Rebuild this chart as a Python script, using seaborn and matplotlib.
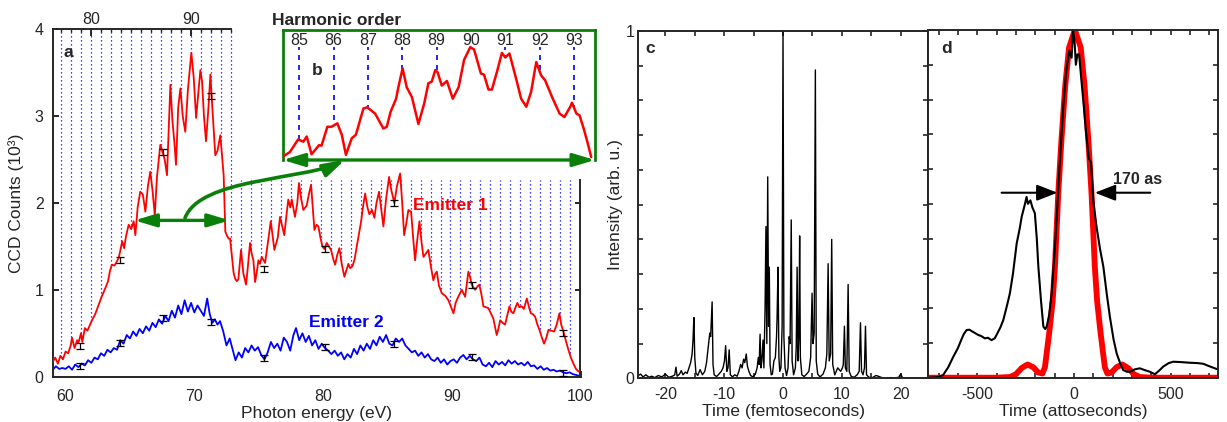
import numpy as np
import matplotlib
matplotlib.use("Agg")
import matplotlib.pyplot as plt
import seaborn as sns
from matplotlib.path import Path
from matplotlib.patches import FancyArrowPatch

# ---------------- data: panel a (photon energy in eV, counts in 10^3) ----------------
red_E = [
    59.0, 59.2, 59.4, 59.6, 59.8, 60.0, 60.2, 60.4, 60.5, 60.7,
    60.9, 61.0, 61.2, 61.3, 61.5, 61.7, 61.9, 62.05, 62.3, 62.57,
    62.8, 63.09, 63.3, 63.45, 63.6, 63.8, 64.0, 64.13, 64.25, 64.4,
    64.55, 64.7, 64.9, 65.1, 65.29, 65.42, 65.6, 65.8, 66.0, 66.2,
    66.4, 66.58, 66.75, 66.93, 67.1, 67.36, 67.55, 67.7, 67.88, 68.0,
    68.14, 68.3, 68.45, 68.58, 68.75, 68.92, 69.1, 69.3, 69.5, 69.77,
    69.95, 70.14, 70.3, 70.47, 70.6, 70.75, 70.91, 71.1, 71.25, 71.4,
    71.63, 71.8, 72.02, 72.15, 72.28, 72.41, 72.55, 72.67, 72.78, 72.93,
    73.05, 73.17, 73.3, 73.42, 73.63, 73.81, 74.02, 74.15, 74.33, 74.45,
    74.59, 74.72, 74.85, 74.98, 75.1, 75.24, 75.5, 75.71, 75.94, 76.1,
    76.22, 76.48, 76.66, 76.8, 76.99, 77.15, 77.3, 77.45, 77.57, 77.82,
    78.0, 78.13, 78.3, 78.47, 78.73, 78.9, 79.07, 79.2, 79.33, 79.5,
    79.64, 79.8, 79.95, 80.1, 80.29, 80.45, 80.62, 80.8, 80.94, 81.1,
    81.27, 81.45, 81.66, 81.8, 81.97, 82.1, 82.28, 82.45, 82.62, 82.8,
    82.96, 83.1, 83.27, 83.45, 83.6, 83.8, 83.99, 84.15, 84.35, 84.5,
    84.69, 84.9, 85.13, 85.3, 85.54, 85.75, 85.99, 86.15, 86.3, 86.45,
    86.63, 86.84, 87.0, 87.15, 87.3, 87.49, 87.65, 87.8, 88.0, 88.18,
    88.4, 88.57, 88.7, 88.84, 89.0, 89.23, 89.5, 89.74, 89.9, 90.13,
    90.3, 90.44, 90.6, 90.78, 91.04, 91.15, 91.29, 91.42, 91.55, 91.81,
    92.0, 92.14, 92.3, 92.46, 92.65, 92.84, 93.0, 93.23, 93.35, 93.49,
    93.62, 93.76, 93.95, 94.14, 94.3, 94.48, 94.62, 94.79, 94.95, 95.1,
    95.25, 95.44, 95.6, 95.83, 96.0, 96.14, 96.3, 96.48, 96.65, 96.81,
    97.0, 97.17, 97.35, 97.51, 97.7, 97.95, 98.15, 98.36, 98.5, 98.67,
    98.85, 99.06, 99.25, 99.45, 99.65, 99.84, 100.0]
red_counts = [
    0.17, 0.22, 0.15, 0.24, 0.20, 0.29, 0.27, 0.36, 0.45, 0.33,
    0.42, 0.39, 0.50, 0.40, 0.56, 0.53, 0.60, 0.65, 0.72, 0.83,
    0.92, 1.02, 1.10, 1.22, 1.29, 1.28, 1.33, 1.37, 1.45, 1.56,
    1.48, 1.62, 1.75, 1.70, 1.79, 1.63, 1.95, 2.13, 2.10, 1.90,
    2.20, 2.36, 2.15, 1.86, 2.30, 2.67, 2.58, 2.50, 2.32, 2.80,
    3.36, 2.95, 2.70, 2.44, 3.10, 3.32, 3.00, 2.82, 3.30, 3.73,
    3.45, 2.98, 3.25, 3.53, 3.40, 3.00, 2.71, 3.10, 3.48, 3.10,
    2.55, 2.60, 2.78, 2.55, 2.32, 1.67, 1.62, 1.59, 1.59, 1.37,
    1.20, 1.13, 1.10, 1.12, 1.46, 1.19, 1.06, 1.25, 1.54, 1.42,
    1.34, 1.09, 1.20, 1.34, 1.30, 1.38, 1.31, 1.54, 1.79, 1.60,
    1.46, 1.60, 1.84, 1.75, 1.63, 1.85, 2.04, 1.95, 2.04, 1.84,
    2.00, 2.23, 2.05, 1.92, 1.97, 2.10, 2.21, 1.95, 1.69, 1.75,
    1.73, 1.60, 1.50, 1.47, 1.54, 1.50, 1.46, 1.35, 1.29, 1.40,
    1.48, 1.30, 1.15, 1.22, 1.30, 1.25, 1.27, 1.35, 1.50, 1.65,
    1.79, 1.95, 2.11, 1.95, 1.87, 1.92, 1.83, 2.00, 2.13, 1.95,
    1.73, 2.05, 2.30, 2.15, 2.00, 2.20, 2.34, 2.00, 1.63, 1.75,
    1.92, 1.90, 1.60, 1.34, 1.55, 1.79, 1.55, 1.38, 1.42, 1.46,
    1.25, 1.11, 1.18, 1.21, 1.05, 0.96, 0.93, 0.88, 0.82, 0.73,
    0.85, 0.90, 0.95, 1.00, 0.92, 1.05, 1.21, 1.15, 1.06, 1.00,
    1.04, 1.06, 0.95, 0.81, 0.80, 0.79, 0.74, 0.67, 0.58, 0.48,
    0.55, 0.65, 0.62, 0.60, 0.70, 0.81, 0.75, 0.73, 0.80, 0.85,
    0.80, 0.81, 0.78, 0.90, 0.80, 0.73, 0.72, 0.69, 0.60, 0.54,
    0.45, 0.38, 0.45, 0.54, 0.53, 0.52, 0.60, 0.73, 0.60, 0.52,
    0.42, 0.31, 0.22, 0.15, 0.09, 0.06, 0.07]

blue_E = [
    59.0, 59.25, 59.5, 59.75, 60.0, 60.25, 60.5, 60.75, 61.0, 61.25,
    61.5, 61.75, 62.0, 62.25, 62.5, 62.75, 63.0, 63.25, 63.5, 63.75,
    64.0, 64.25, 64.5, 64.75, 65.0, 65.25, 65.5, 65.75, 66.0, 66.25,
    66.5, 66.75, 67.0, 67.25, 67.5, 67.75, 68.0, 68.25, 68.5, 68.75,
    69.0, 69.25, 69.5, 69.75, 70.0, 70.25, 70.5, 70.75, 71.0, 71.2,
    71.4, 71.6, 71.8, 72.0, 72.25, 72.5, 72.75, 73.0, 73.2, 73.45,
    73.7, 73.95, 74.2, 74.45, 74.7, 74.95, 75.2, 75.45, 75.7, 75.95,
    76.2, 76.45, 76.7, 76.95, 77.2, 77.45, 77.7, 77.9, 78.15, 78.4,
    78.65, 78.9, 79.15, 79.4, 79.65, 79.9, 80.15, 80.4, 80.65, 80.9,
    81.15, 81.4, 81.65, 81.9, 82.15, 82.4, 82.65, 82.9, 83.15, 83.4,
    83.65, 83.9, 84.15, 84.4, 84.65, 84.9, 85.15, 85.4, 85.65, 85.9,
    86.15, 86.4, 86.65, 86.9, 87.15, 87.4, 87.65, 87.9, 88.15, 88.4,
    88.65, 88.9, 89.15, 89.4, 89.65, 89.9, 90.15, 90.4, 90.65, 90.9,
    91.15, 91.4, 91.65, 91.9, 92.15, 92.4, 92.65, 92.9, 93.15, 93.4,
    93.65, 93.9, 94.15, 94.4, 94.65, 94.9, 95.15, 95.4, 95.65, 95.9,
    96.15, 96.4, 96.65, 96.9, 97.15, 97.4, 97.65, 97.9, 98.15, 98.4,
    98.65, 98.9, 99.15, 99.4, 99.65, 99.9, 100.0]
blue_counts = [
    0.08, 0.12, 0.09, 0.10, 0.09, 0.12, 0.08, 0.14, 0.11, 0.15,
    0.13, 0.19, 0.16, 0.22, 0.20, 0.27, 0.24, 0.31, 0.28, 0.33,
    0.31, 0.42, 0.38, 0.48, 0.44, 0.52, 0.47, 0.55, 0.50, 0.58,
    0.53, 0.62, 0.57, 0.66, 0.61, 0.70, 0.64, 0.76, 0.68, 0.82,
    0.72, 0.88, 0.75, 0.85, 0.74, 0.82, 0.76, 0.70, 0.90, 0.72,
    0.62, 0.66, 0.60, 0.64, 0.52, 0.36, 0.44, 0.30, 0.19, 0.28,
    0.22, 0.33, 0.28, 0.36, 0.30, 0.34, 0.25, 0.20, 0.28, 0.40,
    0.33, 0.38, 0.30, 0.45, 0.40, 0.30, 0.48, 0.56, 0.42, 0.50,
    0.40, 0.47, 0.36, 0.42, 0.32, 0.38, 0.33, 0.30, 0.26, 0.30,
    0.24, 0.28, 0.20, 0.26, 0.22, 0.32, 0.26, 0.36, 0.30, 0.38,
    0.32, 0.42, 0.36, 0.46, 0.40, 0.48, 0.38, 0.36, 0.44, 0.40,
    0.44, 0.36, 0.32, 0.28, 0.30, 0.24, 0.28, 0.22, 0.26, 0.20,
    0.18, 0.22, 0.16, 0.20, 0.14, 0.18, 0.20, 0.16, 0.22, 0.25,
    0.20, 0.24, 0.20, 0.18, 0.22, 0.14, 0.12, 0.16, 0.11, 0.18,
    0.14, 0.17, 0.13, 0.19, 0.15, 0.18, 0.14, 0.16, 0.13, 0.17,
    0.12, 0.13, 0.09, 0.12, 0.08, 0.10, 0.07, 0.08, 0.06, 0.07,
    0.05, 0.04, 0.05, 0.03, 0.02, 0.01, 0.00]

err_E = [61.13, 64.24, 67.53, 71.28, 75.44, 80.16, 85.54, 91.6, 98.67]
err_red = [0.357, 1.344, 2.59, 3.23, 1.24, 1.468, 2.005, 1.056, 0.50]
err_blue = [0.127, 0.385, 0.673, 0.627, 0.219, 0.346, 0.374, 0.223, 0.046]
err_size = 0.035

top_major_orders = [80, 90]

# ---------------- data: inset b (harmonic order, counts in 10^3) ----------------
inset_q = [
    84.53, 84.73, 84.97, 85.12, 85.22, 85.36, 85.58, 85.65, 85.82, 85.94,
    86.11, 86.24, 86.36, 86.53, 86.65, 86.87, 86.98, 87.21, 87.45, 87.55,
    87.66, 87.82, 87.89, 88.01, 88.13, 88.28, 88.47, 88.64, 88.76, 88.86,
    88.96, 89.03, 89.15, 89.30, 89.47, 89.64, 89.80, 89.98, 90.09, 90.29,
    90.38, 90.51, 90.61, 90.77, 90.90, 91.00, 91.12, 91.34, 91.46, 91.61,
    91.75, 91.90, 92.04, 92.16, 92.36, 92.58, 92.72, 92.89, 92.94, 93.07,
    93.16, 93.28, 93.40, 93.50]
inset_counts = [
    1.81, 1.89, 2.11, 2.07, 2.16, 1.85, 2.01, 2.00, 2.33, 2.33,
    2.39, 2.19, 1.84, 2.13, 2.19, 2.65, 2.67, 2.56, 2.30, 2.33,
    2.59, 2.82, 3.03, 3.35, 3.02, 2.85, 2.38, 2.74, 3.09, 3.12,
    3.32, 3.28, 3.05, 3.13, 2.82, 3.02, 3.50, 3.72, 3.68, 3.26,
    3.24, 2.98, 2.98, 3.32, 3.62, 3.54, 3.61, 3.11, 2.82, 2.68,
    2.94, 3.46, 3.23, 3.14, 2.85, 2.56, 2.50, 2.68, 2.75, 2.56,
    2.53, 2.30, 2.04, 1.80]
inset_orders = [85, 86, 87, 88, 89, 90, 91, 92, 93]

# ---------------- data: panel c (time in fs, intensity) ----------------
c_time = [
    -24.6, -24.2, -23.8, -23.3, -22.8, -22.3, -21.8, -21.2, -20.6, -20.0,
    -19.4, -18.8, -18.4, -18.2, -18.0, -17.6, -17.3, -17.0, -16.6, -16.3,
    -16.0, -15.7, -15.45, -15.3, -15.15, -15.0, -14.8, -14.5, -14.1, -13.7,
    -13.3, -13.0, -12.7, -12.45, -12.3, -12.05, -11.9, -11.7, -11.3, -10.9,
    -10.5, -10.2, -9.95, -9.75, -9.55, -9.35, -9.15, -8.95, -8.6, -8.2,
    -7.8, -7.5, -7.2, -6.95, -6.7, -6.5, -6.25, -6.05, -5.8, -5.5,
    -5.1, -4.7, -4.4, -4.2, -4.05, -3.9, -3.75, -3.6, -3.4, -3.25,
    -3.05, -2.9, -2.75, -2.6, -2.45, -2.33, -2.2, -2.0, -1.8, -1.55,
    -1.3, -1.1, -1.0, -0.85, -0.7, -0.55, -0.35, -0.15, 0.0, 0.15,
    0.35, 0.6, 0.85, 1.05, 1.2, 1.4, 1.55, 1.8, 2.1, 2.25,
    2.4, 2.55, 2.7, 2.83, 2.95, 3.2, 3.6, 4.0, 4.4, 4.7,
    4.94, 5.1, 5.3, 5.5, 5.65, 5.9, 6.3, 6.8, 7.2, 7.45,
    7.67, 7.85, 8.1, 8.28, 8.45, 8.8, 9.3, 9.8, 10.1, 10.25,
    10.44, 10.6, 10.85, 11.07, 11.25, 11.6, 12.1, 12.6, 12.95, 13.17,
    13.35, 13.6, 13.85, 14.02, 14.2, 14.6, 15.2, 15.8, 16.2, 16.8,
    17.5, 18.3, 19.0, 19.7, 19.98, 20.3, 21.0, 22.0, 23.0, 24.0,
    24.7]
c_intensity = [
    0.008, 0.012, 0.004, 0.010, 0.003, 0.006, 0.002, 0.008, 0.004, 0.012,
    0.003, 0.006, 0.010, 0.032, 0.006, 0.012, 0.022, 0.010, 0.018, 0.014,
    0.030, 0.045, 0.070, 0.110, 0.175, 0.060, 0.015, 0.008, 0.025, 0.010,
    0.020, 0.045, 0.090, 0.130, 0.120, 0.220, 0.040, 0.010, 0.005, 0.012,
    0.020, 0.030, 0.050, 0.094, 0.020, 0.030, 0.082, 0.010, 0.004, 0.010,
    0.006, 0.020, 0.040, 0.030, 0.055, 0.045, 0.070, 0.035, 0.020, 0.008,
    0.004, 0.012, 0.030, 0.060, 0.040, 0.127, 0.030, 0.050, 0.110, 0.030,
    0.200, 0.437, 0.100, 0.580, 0.150, 0.320, 0.040, 0.010, 0.012, 0.050,
    0.060, 0.120, 0.180, 0.320, 0.060, 0.020, 0.030, 0.150, 1.000, 0.120,
    0.030, 0.008, 0.030, 0.120, 0.100, 0.456, 0.050, 0.010, 0.030, 0.090,
    0.320, 0.050, 0.120, 0.410, 0.060, 0.010, 0.005, 0.012, 0.020, 0.060,
    0.245, 0.100, 0.130, 0.888, 0.050, 0.012, 0.004, 0.012, 0.030, 0.070,
    0.330, 0.050, 0.070, 0.400, 0.040, 0.010, 0.030, 0.020, 0.030, 0.040,
    0.150, 0.030, 0.020, 0.270, 0.020, 0.005, 0.003, 0.010, 0.020, 0.160,
    0.020, 0.010, 0.030, 0.150, 0.010, 0.003, 0.002, 0.008, 0.006, 0.002,
    0.001, 0.002, 0.001, 0.003, 0.012, 0.002, 0.001, 0.000, 0.001, 0.000,
    0.000]

# ---------------- data: panel d (time in as, intensity) ----------------
d_time_meas = [
    -750, -700, -676, -650, -624, -600, -589, -570, -555, -540,
    -529, -510, -495, -480, -460, -445, -426, -410, -400, -380,
    -365, -345, -331, -315, -296, -280, -270, -253, -245, -238,
    -225, -215, -202, -192, -184, -170, -158, -148, -141, -128,
    -115, -100, -90, -75, -55, -40, -24, -12, -5, 3,
    10, 18, 27, 38, 48, 62, 77, 88, 100, 117,
    135, 152, 170, 186, 205, 221, 240, 255, 275, 290,
    315, 341, 365, 393, 419, 440, 462, 490, 514, 550,
    600, 640, 669, 700, 738, 750]
d_meas = [
    0.0, 0.002, 0.008, 0.03, 0.06, 0.085, 0.10, 0.125, 0.137, 0.138,
    0.134, 0.128, 0.123, 0.12, 0.113, 0.115, 0.108, 0.113, 0.123, 0.145,
    0.166, 0.21, 0.243, 0.30, 0.386, 0.43, 0.463, 0.50, 0.52, 0.50,
    0.51, 0.49, 0.473, 0.40, 0.32, 0.22, 0.147, 0.14, 0.147, 0.18,
    0.243, 0.36, 0.45, 0.60, 0.78, 0.88, 0.94, 0.92, 1.0, 0.97,
    0.90, 0.93, 0.93, 0.86, 0.80, 0.71, 0.63, 0.62, 0.51, 0.434,
    0.37, 0.32, 0.24, 0.175, 0.11, 0.07, 0.04, 0.022, 0.017, 0.017,
    0.024, 0.027, 0.022, 0.017, 0.010, 0.02, 0.032, 0.042, 0.046, 0.045,
    0.043, 0.042, 0.04, 0.033, 0.025, 0.024]

d_time_tl = [
    -750, -400, -330, -300, -270, -240, -210, -185, -163, -150,
    -128, -110, -98, -81, -65, -45, -25, 5, 35, 55,
    75, 91, 108, 120, 138, 160, 173, 195, 220, 250,
    280, 310, 340, 400, 750]
d_tl = [
    0.0, 0.0, 0.002, 0.01, 0.028, 0.038, 0.03, 0.015, 0.012, 0.03,
    0.128, 0.22, 0.32, 0.53, 0.68, 0.84, 0.95, 1.0, 0.95, 0.84,
    0.68, 0.53, 0.32, 0.22, 0.128, 0.03, 0.012, 0.015, 0.03, 0.038,
    0.028, 0.01, 0.002, 0.0, 0.0]

# ---------------- style ----------------
sns.set_style("ticks")
plt.rcParams['font.family'] = ['Liberation Sans', 'DejaVu Sans']
plt.rcParams['axes.linewidth'] = 1.4
plt.rcParams['xtick.direction'] = 'in'
plt.rcParams['ytick.direction'] = 'in'

GREEN = '#0a800a'
RED = '#ff0000'
BLUE = '#0000ff'
EV_PER_ORDER = 0.775
FS_TICK = 11.5
FS_LABEL = 12.5
FS_BOLD = 12.5

W, H = 1227, 422
fig = plt.figure(figsize=(W / 100, H / 100), dpi=100)


def box(x0, ytop, x1, ybot):
    return [x0 / W, 1 - ybot / H, (x1 - x0) / W, (ybot - ytop) / H]


axA = fig.add_axes(box(52.7, 29.3, 580.5, 376.7))
axC = fig.add_axes(box(638.3, 31.0, 928.3, 378.3))
axD = fig.add_axes(box(928.3, 30.0, 1218.0, 377.7))

# ================= panel a =================
axA.set_xlim(59, 100)
axA.set_ylim(0, 4)
q_tall = np.arange(77, 95)
q_short = np.arange(95, 130)
axA.vlines(q_tall * EV_PER_ORDER, 0, 4, colors=BLUE, linestyles=(0, (1, 2.2)), lw=0.9, zorder=1)
axA.vlines(q_short * EV_PER_ORDER, 0, 2.27, colors=BLUE, linestyles=(0, (1, 2.2)), lw=0.9, zorder=1)
axA.fill_between(red_E, 0, red_counts, color='white', lw=0, zorder=1.5)
sns.lineplot(x=blue_E, y=blue_counts, ax=axA, color=BLUE, lw=1.3, zorder=2.5, estimator=None, sort=False)
sns.lineplot(x=red_E, y=red_counts, ax=axA, color=RED, lw=1.3, zorder=3, estimator=None, sort=False)
for yv in (err_red, err_blue):
    axA.errorbar(err_E, yv, yerr=err_size, fmt='none', ecolor='black', elinewidth=0.9,
                 capsize=3, capthick=0.9, zorder=4)

axA.spines['top'].set_visible(False)
axA.spines['right'].set_bounds(0, 2.27)
axA.set_xticks([60, 70, 80, 90, 100])
axA.set_yticks([0, 1, 2, 3, 4])
axA.tick_params(axis='both', direction='in', length=4, width=1.4, labelsize=FS_TICK, pad=6.5,
                top=False, right=False)
axA.tick_params(axis='x', pad=8.5)
axA.set_xlabel('Photon energy (eV)', fontsize=FS_LABEL, labelpad=1.5)
axA.set_ylabel('CCD Counts (10³)', fontsize=FS_LABEL, labelpad=8)

secY = axA.secondary_yaxis('right')
secY.set_yticks([1, 2], labels=['', ''])
secY.tick_params(direction='in', length=4, width=1.4)
secY.spines['right'].set_visible(False)

axT = axA.twiny()
axT.set_xlim(59 / EV_PER_ORDER, 100 / EV_PER_ORDER)
for s in ('left', 'right', 'bottom'):
    axT.spines[s].set_visible(False)
axT.spines['top'].set_bounds(59 / EV_PER_ORDER, 94.0)
axT.set_xticks(top_major_orders)
axT.set_xticks(np.arange(77, 95), minor=True)
axT.tick_params(which='major', direction='in', length=5, width=1.4, labelsize=FS_TICK, pad=2)
axT.tick_params(which='minor', direction='in', length=2.5, width=1.0)

axA.text(0.021, 0.92, 'a', transform=axA.transAxes, fontsize=FS_BOLD, fontweight='bold', va='baseline')
axA.text(86.97, 1.92, 'Emitter 1', color=RED, fontsize=FS_BOLD, fontweight='bold', va='baseline', zorder=6)
axA.text(78.92, 0.576, 'Emitter 2', color=BLUE, fontsize=FS_BOLD, fontweight='bold', va='baseline', zorder=6)
fig.text(336.5 / W, 1 - 25 / H, 'Harmonic order', ha='center', va='baseline',
         fontsize=12.5, fontweight='bold')

axA.annotate('', xy=(65.35, 1.8), xytext=(72.75, 1.8),
             arrowprops=dict(arrowstyle='<|-|>,head_length=1.0,head_width=0.3', color=GREEN,
                             lw=2.4, shrinkA=0, shrinkB=0, mutation_scale=13), zorder=5)
curve = Path([(69.28, 1.828), (70.45, 2.289), (78.6, 2.266), (81.71, 2.497)],
             [Path.MOVETO, Path.CURVE4, Path.CURVE4, Path.CURVE4])
axA.add_patch(FancyArrowPatch(path=curve, arrowstyle='-|>,head_length=1.0,head_width=0.3',
                              mutation_scale=13, color=GREEN, lw=2.6, zorder=5,
                              transform=axA.transData))

# ================= inset b =================
axB = fig.add_axes(box(282.7, 30.0, 595.0, 160.0))
axB.set_facecolor('white')
axB.set_xlim(84.52, 93.61)
axB.set_ylim(1.75, 4.02)
axB.vlines(inset_orders, 1.75, 3.72, colors=BLUE, linestyles=(0, (3, 3)), lw=1.2, zorder=1)
axB.fill_between(inset_q, 1.75, inset_counts, color='white', lw=0, zorder=1.5)
sns.lineplot(x=inset_q, y=inset_counts, ax=axB, color=RED, lw=1.8, zorder=3, estimator=None, sort=False)
axB.set_xticks([])
axB.set_yticks([])
axB.set_xlabel('')
axB.set_ylabel('')
for s in ('top', 'left', 'right'):
    axB.spines[s].set_color(GREEN)
    axB.spines[s].set_linewidth(2)
axB.spines['bottom'].set_visible(False)
for q in inset_orders:
    axB.text(q, 3.84, str(q), ha='center', va='center', fontsize=FS_TICK)
axB.text(85.36, 3.23, 'b', fontsize=FS_BOLD, fontweight='bold', va='baseline')
axB.annotate('', xy=(0, 0), xytext=(1, 0), xycoords='axes fraction', textcoords='axes fraction',
             arrowprops=dict(arrowstyle='<|-|>,head_length=1.0,head_width=0.3', color=GREEN,
                             lw=2.4, shrinkA=0, shrinkB=0, mutation_scale=13), annotation_clip=False)

# ================= panel c =================
sns.lineplot(x=c_time, y=c_intensity, ax=axC, color='black', lw=1.0, estimator=None, sort=False)
axC.set_xlim(-24.6, 24.7)
axC.set_ylim(0, 1)
c_xt = np.arange(-20, 21, 5)
axC.set_xticks(c_xt, labels=[str(v) if v % 10 == 0 else '' for v in c_xt])
c_yt = np.round(np.arange(0, 1.01, 0.1), 1)
axC.set_yticks(c_yt, labels=['0'] + [''] * 9 + ['1'])
axC.tick_params(direction='in', top=True, right=True, length=3.5, width=1.2, labelsize=FS_TICK, pad=6.5)
axC.tick_params(axis='y', pad=3)
axC.set_xlabel('Time (femtoseconds)', fontsize=FS_LABEL, labelpad=1.5)
axC.set_ylabel('Intensity (arb. u.)', fontsize=FS_LABEL, labelpad=1.5)
axC.text(0.023, 0.937, 'c', transform=axC.transAxes, fontsize=FS_BOLD, fontweight='bold', va='baseline')

# ================= panel d =================
sns.lineplot(x=d_time_tl, y=d_tl, ax=axD, color=RED, lw=4.2, estimator=None, sort=False)
sns.lineplot(x=d_time_meas, y=d_meas, ax=axD, color='black', lw=1.5, estimator=None, sort=False)
axD.set_xlim(-753, 745)
axD.set_ylim(0, 1)
d_xt = np.arange(-700, 701, 100)
axD.set_xticks(d_xt, labels=[str(v) if v % 500 == 0 else '' for v in d_xt])
axD.set_yticks(c_yt, labels=[''] * 11)
axD.tick_params(direction='in', top=True, right=True, length=3.5, width=1.2, labelsize=FS_TICK, pad=6.5)
axD.set_xlabel('Time (attoseconds)', fontsize=FS_LABEL, labelpad=1.5)
axD.set_ylabel('')
axD.text(0.043, 0.933, 'd', transform=axD.transAxes, fontsize=FS_BOLD, fontweight='bold', va='baseline')
arrow_kw = dict(arrowstyle='-|>,head_length=0.9,head_width=0.35', color='black', lw=1.5,
                shrinkA=0, shrinkB=0, mutation_scale=14)
axD.annotate('', xy=(-85, 0.532), xytext=(-374, 0.532), arrowprops=arrow_kw)
axD.annotate('', xy=(108, 0.532), xytext=(395, 0.532), arrowprops=arrow_kw)
axD.text(203, 0.557, '170 as', fontsize=11.5, fontweight='bold', va='baseline')

fig.savefig('out.png', dpi=100)
